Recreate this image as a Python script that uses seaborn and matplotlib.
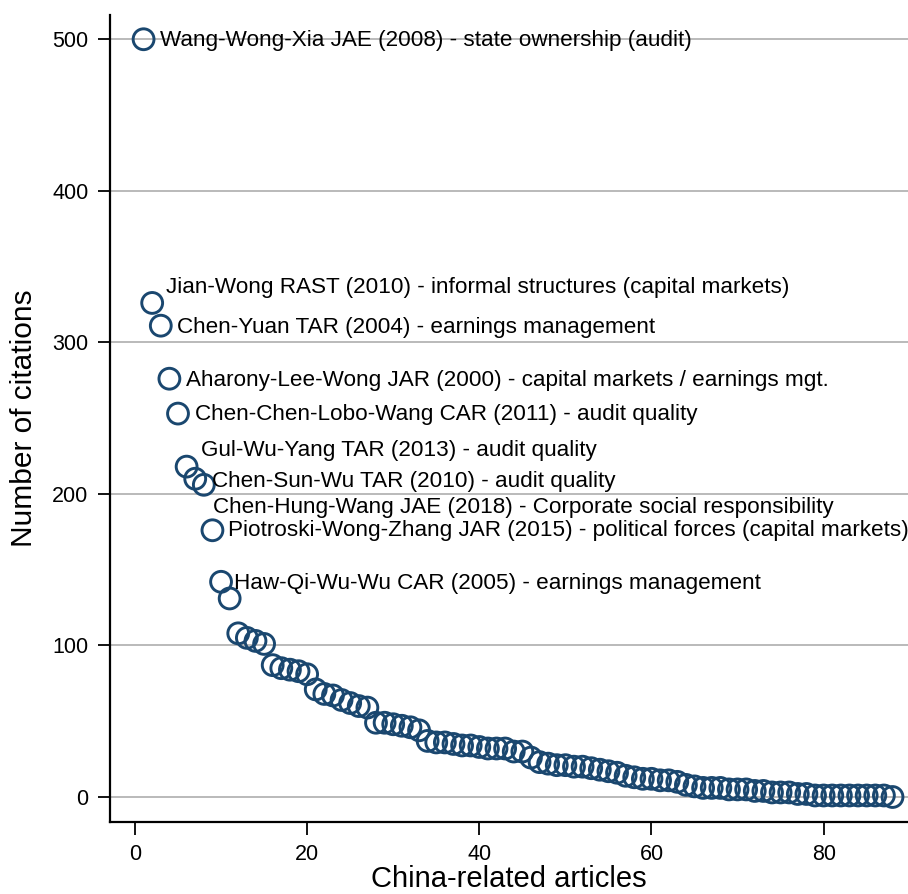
import numpy as np
import pandas as pd
import matplotlib
matplotlib.use("Agg")
import matplotlib.pyplot as plt
import seaborn as sns

# citations per China-related article, ranked
citations = [500, 326, 311, 276, 253, 218, 210, 206, 176, 142, 131,
             108, 105, 103, 101, 87, 85, 84, 83, 81,
             71, 68, 67, 64, 62, 60, 59, 49, 49, 48,
             47, 46, 44, 37, 36, 36, 35, 34, 34, 33,
             32, 32, 32, 30, 30, 26, 23, 22, 21, 21,
             20, 20, 19, 18, 17, 16, 14, 13, 12, 12,
             11, 11, 10, 8, 7, 6, 6, 6, 5, 5,
             5, 4, 4, 3, 3, 3, 2, 2, 1, 1,
             1, 1, 1, 1, 1, 1, 1, 0]
rank = list(range(1, len(citations) + 1))

# labelled articles: rank, text, offset (points)
label_rank = [1, 2, 3, 4, 5, 6, 7, 8, 9, 10]
label_text = [
    "Wang-Wong-Xia JAE (2008) - state ownership (audit)",
    "Jian-Wong RAST (2010) - informal structures (capital markets)",
    "Chen-Yuan TAR (2004) - earnings management",
    "Aharony-Lee-Wong JAR (2000) - capital markets / earnings mgt.",
    "Chen-Chen-Lobo-Wang CAR (2011) - audit quality",
    "Gul-Wu-Yang TAR (2013) - audit quality",
    "Chen-Sun-Wu TAR (2010) - audit quality",
    "Chen-Hung-Wang JAE (2018) - Corporate social responsibility",
    "Piotroski-Wong-Zhang JAR (2015) - political forces (capital markets)",
    "Haw-Qi-Wu-Wu CAR (2005) - earnings management",
]
label_dx = [11.5, 10, 11.5, 12, 12, 10, 12, 6.5, 11.5, 9.5]
label_dy = [-1, 11, -1, -1, -1, 11.5, -2, -16.5, 0, -1]

df = pd.DataFrame({"rank": rank, "citations": citations})

sns.set_style("white")
plt.rcParams["font.family"] = ["Liberation Sans", "DejaVu Sans"]

navy = "#1a476f"
fig = plt.figure(figsize=(9.08, 8.94), dpi=100)
ax = fig.add_axes([110 / 908, 72 / 894, 798 / 908, 807 / 894])

ax.set_xlim(-2.9, 89.8)
ax.set_ylim(-16.5, 516)
ax.set_yticks([0, 100, 200, 300, 400, 500])
ax.set_xticks([0, 20, 40, 60, 80])
ax.yaxis.grid(True, color="#b4b4b4", linewidth=1.3)
ax.set_axisbelow(True)

sns.scatterplot(data=df, x="rank", y="citations", ax=ax, s=225,
                facecolor="none", edgecolor=navy, linewidth=2.1, zorder=3)

for r, t, dx, dy in zip(label_rank, label_text, label_dx, label_dy):
    ax.annotate(t, (r, citations[r - 1]), xytext=(dx, dy),
                textcoords="offset points", ha="left", va="center",
                fontsize=16.2, color="black")

for side in ["top", "right"]:
    ax.spines[side].set_visible(False)
for side in ["left", "bottom"]:
    ax.spines[side].set_color("black")
    ax.spines[side].set_linewidth(1.6)

ax.tick_params(axis="both", direction="out", length=9, width=1.3,
               color="black", labelcolor="black", labelsize=15.5,
               left=True, bottom=True, pad=6.5)

ax.set_xlabel("China-related articles", fontsize=21, color="black", labelpad=0)
ax.set_ylabel("Number of citations", fontsize=21.5, color="black", labelpad=10)

fig.savefig("out.png", dpi=100)
